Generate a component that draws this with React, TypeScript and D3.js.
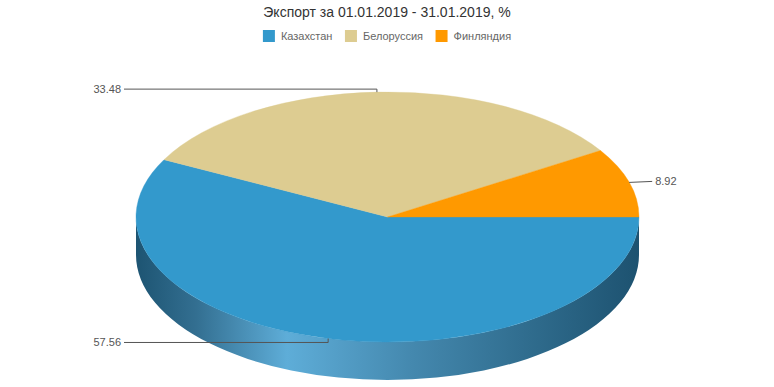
import React, { useMemo } from 'react';
import * as d3 from 'd3';

// данные диаграммы
const title = 'Экспорт за 01.01.2019 - 31.01.2019, %';
const categories = ['Казахстан', 'Белоруссия', 'Финляндия'];
const values = [57.56, 33.48, 8.92];
const colors = ['#3399cc', '#ddcc91', '#ff9900'];

const WIDTH = 774;
const HEIGHT = 387;
const FONT = '"Liberation Sans", Arial, Helvetica, sans-serif';

// геометрия 3D-пирога
const CX = 387.5;
const CY = 217;
const RX = 251.5;
const RY = 125;
const DEPTH = 38;

type Slice = d3.PieArcDatum<number>;

const pt = (a: number, dy = 0) => ({
  x: CX + RX * Math.sin(a),
  y: CY - RY * Math.cos(a) + dy,
});

// боковая стенка только для передней половины (a в [π/2, 3π/2])
const sidePath = (s: Slice) => {
  const s0 = Math.max(s.startAngle, Math.PI / 2);
  const s1 = Math.min(s.endAngle, (3 * Math.PI) / 2);
  if (s1 <= s0) return null;
  const p0 = pt(s0);
  const p1 = pt(s1);
  const b0 = pt(s0, DEPTH);
  const b1 = pt(s1, DEPTH);
  return `M${p0.x},${p0.y}A${RX},${RY} 0 0 1 ${p1.x},${p1.y}L${b1.x},${b1.y}A${RX},${RY} 0 0 0 ${b0.x},${b0.y}Z`;
};

const measure = (text: string, font: string) => {
  const ctx = document.createElement('canvas').getContext('2d');
  if (!ctx) return text.length * 6;
  ctx.font = font;
  return ctx.measureText(text).width;
};

const App: React.FC = () => {
  const slices = useMemo(
    () =>
      d3
        .pie<number>()
        .sort(null)
        .startAngle(Math.PI / 2)
        .endAngle(Math.PI / 2 + 2 * Math.PI)(values),
    []
  );

  const arc = d3.arc<Slice>().innerRadius(0).outerRadius(RX);

  // легенда по центру
  const legend = useMemo(() => {
    const widths = categories.map(c => measure(c, `11px ${FONT}`));
    const items = widths.map((w, i) => 18 + w + (i < widths.length - 1 ? 12.5 : 0));
    const total = d3.sum(items);
    let x = WIDTH / 2 - total / 2;
    return items.map(w => {
      const x0 = x;
      x += w;
      return x0;
    });
  }, []);

  const leftX = CX - RX - 12;

  return (
    <svg
      width={WIDTH}
      height={HEIGHT}
      style={{ position: 'absolute', left: 0, top: 0, fontFamily: FONT, background: '#fff' }}
    >
      <defs>
        <linearGradient id="sideGrad" gradientUnits="userSpaceOnUse" x1={CX - RX} x2={CX + RX} y1={0} y2={0}>
          <stop offset="0%" stopColor="#1d5472" />
          <stop offset="12%" stopColor="#336f91" />
          <stop offset="30%" stopColor="#5eadd8" />
          <stop offset="55%" stopColor="#4488ae" />
          <stop offset="80%" stopColor="#2e6a8b" />
          <stop offset="100%" stopColor="#1d5270" />
        </linearGradient>
      </defs>

      <text x={WIDTH / 2} y={17} textAnchor="middle" fontSize={14} fill="#333">
        {title}
      </text>

      {categories.map((c, i) => (
        <g key={c} transform={`translate(${legend[i]},30)`}>
          <rect width={12} height={12} fill={colors[i]} />
          <text x={18} y={10} fontSize={11} fill="#666">
            {c}
          </text>
        </g>
      ))}

      {/* боковая стенка */}
      {slices.map((s, i) => {
        const d = sidePath(s);
        return d ? <path key={`side-${i}`} d={d} fill="url(#sideGrad)" /> : null;
      })}

      {/* верхняя грань */}
      <g transform={`translate(${CX},${CY}) scale(1,${RY / RX})`}>
        {slices.map((s, i) => (
          <path key={`top-${i}`} d={arc(s) || ''} fill={colors[i]} stroke={colors[i]} strokeWidth={0.5} />
        ))}
      </g>

      {/* подписи */}
      {slices.map((s, i) => {
        const m = (s.startAngle + s.endAngle) / 2;
        const p = pt(m);
        const label = d3.format('.2f')(values[i]);
        if (Math.sin(m) < 0) {
          const ey = p.y + (Math.cos(m) > 0 ? -3 : 4);
          return (
            <g key={`lbl-${i}`}>
              <path d={`M${p.x},${p.y}L${p.x},${ey}L${leftX},${ey}`} fill="none" stroke="#555" strokeWidth={1} />
              <text x={leftX - 3} y={ey} dy="0.35em" textAnchor="end" fontSize={11} fill="#555">
                {label}
              </text>
            </g>
          );
        }
        const ex = p.x + 23;
        return (
          <g key={`lbl-${i}`}>
            <path d={`M${p.x},${p.y}L${ex},${p.y - 1}`} fill="none" stroke="#555" strokeWidth={1} />
            <text x={ex + 3} y={p.y - 1} dy="0.35em" textAnchor="start" fontSize={11} fill="#555">
              {label}
            </text>
          </g>
        );
      })}
    </svg>
  );
};

export default App;
